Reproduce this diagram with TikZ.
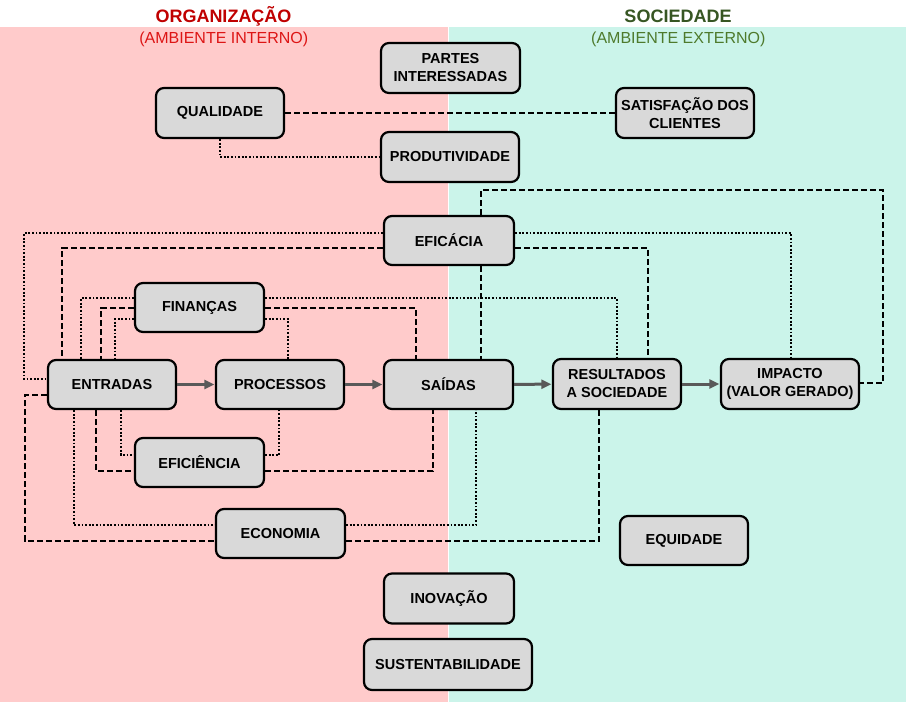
\documentclass[tikz,border=0pt]{standalone}
\usepackage{fontspec}
\setmainfont{Liberation Sans}
\usetikzlibrary{arrows.meta}
\definecolor{pinkbg}{HTML}{FFCBCB}
\definecolor{greenbg}{HTML}{CBF4EA}
\definecolor{nodefill}{HTML}{D9D9D9}
\definecolor{arrowgray}{HTML}{595959}
\definecolor{titred}{HTML}{C00000}
\definecolor{subred}{HTML}{DD1515}
\definecolor{titgreen}{HTML}{375623}
\definecolor{subgreen}{HTML}{4E7A2C}
\tikzset{
  box/.style={draw=black, fill=nodefill, line width=2.2pt, rounded corners=8pt,
    align=center, inner sep=2pt, font=\bfseries\fontsize{14.5}{18}\selectfont,
    minimum width=128pt, minimum height=49pt},
  flow/.style={draw=arrowgray, line width=3pt, -{Triangle[length=10pt,width=9pt]}, shorten >=0.5pt},
  dsh/.style={draw=black, line width=2pt, dash pattern=on 6pt off 3pt},
  dtt/.style={draw=black, line width=2pt, dash pattern=on 1.8pt off 1.8pt},
  ttl/.style={anchor=base, font=\bfseries\fontsize{18}{20}\selectfont},
  subttl/.style={anchor=base, font=\fontsize{16}{18}\selectfont}
}
\begin{document}
\begin{tikzpicture}[x=1pt, y=-1pt]
\useasboundingbox (0,0) rectangle (906,702);
\fill[white] (0,0) rectangle (906,702);
\fill[pinkbg] (0,27) rectangle (448.3,702);
\fill[greenbg] (449.3,27) rectangle (906,702);

% titles
\node[ttl, text=titred] (torg) at (223.5,22.7) {ORGANIZAÇÃO};
\node[subttl, text=subred] (sorg) at (223.8,43.3) {(AMBIENTE INTERNO)};
\node[ttl, text=titgreen] (tsoc) at (678,22.7) {SOCIEDADE};
\node[subttl, text=subgreen] (ssoc) at (678.3,43.3) {(AMBIENTE EXTERNO)};

% nodes
\node[box, minimum width=139pt, minimum height=50pt] (partes) at (450.5,68) {PARTES\\INTERESSADAS};
\node[box, minimum height=50pt] (qual) at (220,113) {QUALIDADE};
\node[box, minimum width=138pt, minimum height=50pt] (satis) at (685,113) {SATISFAÇÃO DOS\\CLIENTES};
\node[box, minimum width=138pt, minimum height=50pt] (prod) at (450,157) {PRODUTIVIDADE};
\node[box, minimum width=130pt] (efic) at (449,240.5) {EFICÁCIA};
\node[box, minimum width=129pt] (fin) at (199.5,307.5) {FINANÇAS};
\node[box] (entr) at (112,384.5) {ENTRADAS};
\node[box] (proc) at (280,384.5) {PROCESSOS};
\node[box, minimum width=129pt] (said) at (448.5,384.5) {SAÍDAS};
\node[box, minimum height=50pt] (res) at (617,384) {RESULTADOS\\A SOCIEDADE};
\node[box, minimum width=138pt, minimum height=50pt] (imp) at (790,384) {IMPACTO\\(VALOR GERADO)};
\node[box, minimum width=129pt] (efi) at (199.5,462.5) {EFICIÊNCIA};
\node[box, minimum width=129pt] (eco) at (280.5,533.5) {ECONOMIA};
\node[box] (equi) at (684,540.5) {EQUIDADE};
\node[box, minimum width=130pt, minimum height=50pt] (inov) at (449,598.5) {INOVAÇÃO};
\node[box, minimum width=168pt, minimum height=51pt] (sust) at (448,664.5) {SUSTENTABILIDADE};

% main flow
\draw[flow] (entr) -- (proc);
\draw[flow] (proc) -- (said);
\draw[flow] (said) -- (res);
\draw[flow] (res) -- (imp);

% qualidade
\draw[dsh] (qual.east) -- (satis.west);
\draw[dtt] (qual.south) |- (prod.west);

% eficacia
\draw[dtt] (efic.west |- 0,233) -| (24,379) -- (entr.west |- 0,379);
\draw[dsh] (efic.west |- 0,248) -| (entr.north -| 62,0);
\draw[dtt] (efic.east |- 0,233) -| (imp.north -| 791,0);
\draw[dsh] (efic.east |- 0,248) -| (res.north -| 648,0);
\draw[dsh] (efic.north -| 481,0) |- (883,190) |- (imp.east |- 0,383);
\draw[dsh] (efic.south -| 481,0) -- (said.north -| 481,0);

% financas
\draw[dtt] (fin.west |- 0,298) -| (entr.north -| 81,0);
\draw[dsh] (fin.west |- 0,308) -| (entr.north -| 101,0);
\draw[dtt] (fin.west |- 0,319) -| (entr.north -| 115,0);
\draw[dtt] (fin.east |- 0,298) -| (res.north -| 617,0);
\draw[dsh] (fin.east |- 0,308) -| (said.north -| 416,0);
\draw[dtt] (fin.east |- 0,319) -| (proc.north -| 288,0);

% eficiencia / economia
\draw[dtt] (entr.south -| 74,0) |- (eco.west |- 0,525);
\draw[dsh] (entr.west |- 0,395) -| (25,541) -- (eco.west |- 0,541);
\draw[dsh] (entr.south -| 96,0) |- (efi.west |- 0,471);
\draw[dtt] (entr.south -| 121,0) |- (efi.west |- 0,455);
\draw[dtt] (efi.east |- 0,455) -| (proc.south -| 279,0);
\draw[dsh] (efi.east |- 0,471) -| (said.south -| 433,0);
\draw[dtt] (eco.east |- 0,525) -| (said.south -| 476,0);
\draw[dsh] (eco.east |- 0,541) -| (res.south -| 599,0);
\end{tikzpicture}
\end{document}
